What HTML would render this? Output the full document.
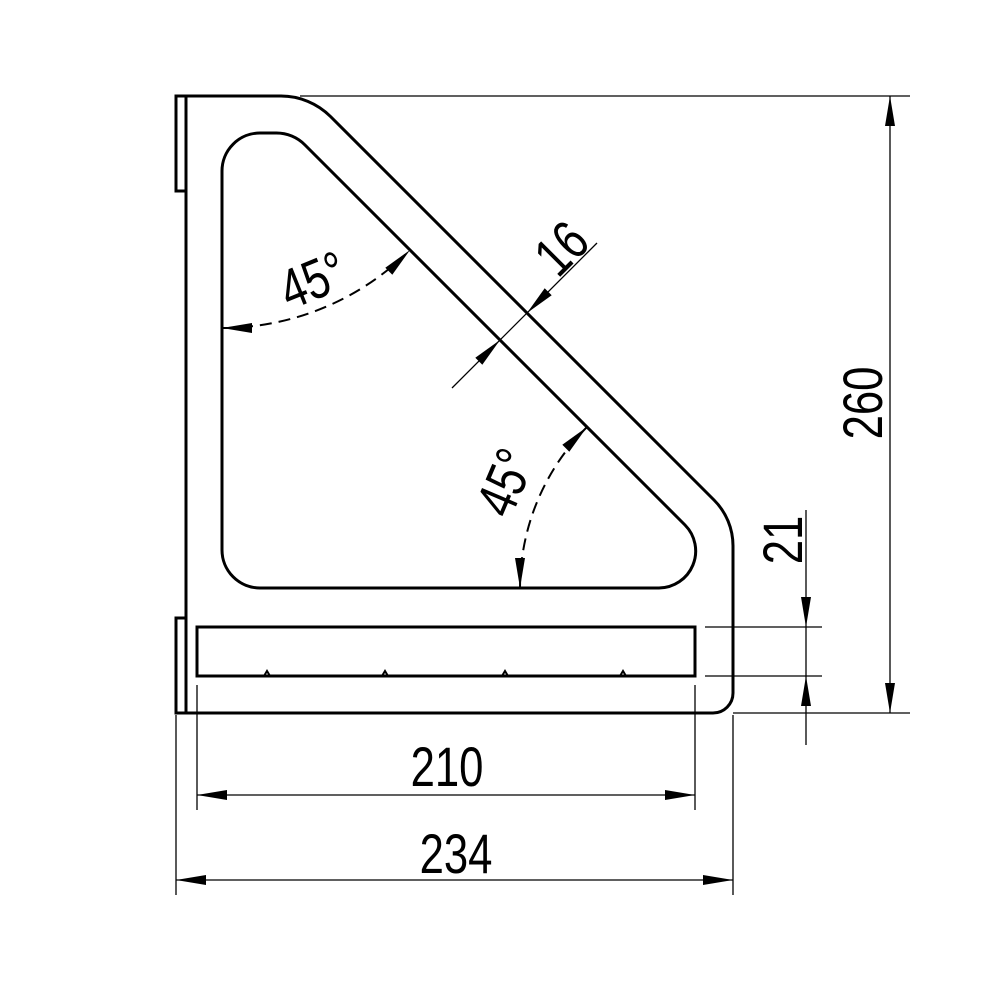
<!DOCTYPE html>
<html><head><style>html,body{margin:0;padding:0;background:#fff}svg{display:block}</style></head>
<body>
<svg width="1000" height="1000" viewBox="0 0 1000 1000" xmlns="http://www.w3.org/2000/svg">
<g fill="none" stroke="#000" stroke-width="3">
<path d="M186,96 L281,96 A70,70 0 0 1 330.5,116.5 L714,500 A65,65 0 0 1 733,546 L733,693 A20,20 0 0 1 713,713 L186,713 Z"/>
<path d="M276,133 A40,40 0 0 1 305,145 L685,525 A37,37 0 0 1 659,588 L260,588 A38,38 0 0 1 222,550 L222,171 A38,38 0 0 1 260,133 Z"/>
<rect x="176" y="96" width="10" height="95"/>
<rect x="176" y="618" width="10" height="95"/>
<rect x="197" y="627" width="498" height="49"/>
<path d="M222,328 A266,266 0 0 0 410,250" stroke-width="2" stroke-dasharray="12,7"/>
<path d="M520,588 A228,228 0 0 1 587,427" stroke-width="2" stroke-dasharray="12,7"/>
</g>
<g stroke="#000" stroke-width="2" fill="none">
<path d="M264,676 l3,-5 l3,5 M382,676 l3,-5 l3,5 M502,676 l3,-5 l3,5 M620,676 l3,-5 l3,5"/>
</g>
<g stroke="#000" stroke-width="1.3" fill="none">
<line x1="300" y1="96" x2="910" y2="96"/>
<line x1="733" y1="713" x2="910" y2="713"/>
<line x1="890" y1="96" x2="890" y2="713"/>
<line x1="705" y1="627" x2="822" y2="627"/>
<line x1="705" y1="676" x2="822" y2="676"/>
<line x1="806" y1="510" x2="806" y2="745"/>
<line x1="197" y1="685" x2="197" y2="810"/>
<line x1="695" y1="685" x2="695" y2="810"/>
<line x1="197" y1="795" x2="695" y2="795"/>
<line x1="176" y1="715" x2="176" y2="895"/>
<line x1="733" y1="715" x2="733" y2="895"/>
<line x1="176" y1="880" x2="733" y2="880"/>
<line x1="452" y1="388" x2="597" y2="243"/>
</g>
<g fill="#000">
<polygon points="222,328 252,323 252,333"/>
<polygon points="410,250 392.3,274.7 385.3,267.7"/>
<polygon points="520,588 515,558 525,558"/>
<polygon points="587,427 569.3,451.7 562.3,444.7"/>
<polygon points="527,313 551.7,295.3 544.7,288.3"/>
<polygon points="500,340 482.3,364.7 475.3,357.7"/>
<polygon points="890,96 885,126 895,126"/>
<polygon points="890,713 885,683 895,683"/>
<polygon points="806,627 801,597 811,597"/>
<polygon points="806,676 801,706 811,706"/>
<polygon points="197,795 227,790 227,800"/>
<polygon points="695,795 665,790 665,800"/>
<polygon points="176,880 206,875 206,885"/>
<polygon points="733,880 703,875 703,885"/>
</g>
<g font-family="Liberation Sans, sans-serif" font-size="56" fill="#000" text-anchor="middle">
<text transform="translate(447,786) scale(0.78,1)">210</text>
<text transform="translate(456,873) scale(0.78,1)">234</text>
<text transform="translate(882,403) rotate(-90) scale(0.78,1)">260</text>
<text transform="translate(802,540) rotate(-90) scale(0.78,1)">21</text>
<text transform="translate(320,298) rotate(-22) scale(0.78,1)">45°</text>
<text transform="translate(523,490) rotate(-67) scale(0.78,1)">45°</text>
<text transform="translate(575,262) rotate(-45) scale(0.78,1)">16</text>
</g>
</svg>
</body></html>
